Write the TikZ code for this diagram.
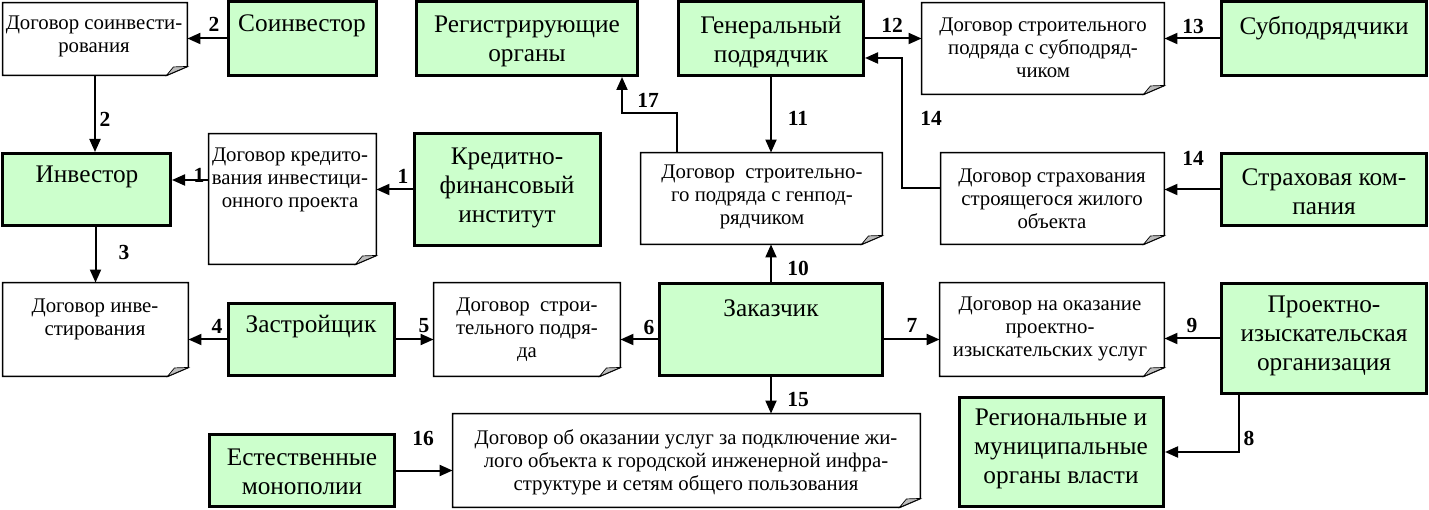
\documentclass[tikz,border=0pt]{standalone}
\usepackage{fontspec}
\setmainfont{Liberation Serif}
\usetikzlibrary{arrows.meta}
\definecolor{gfill}{HTML}{CCFFCC}
\definecolor{foldgray}{HTML}{BDBDBD}
\newcommand\gfont{\fontsize{25.3}{29}\selectfont}
\newcommand\dfont{\fontsize{20.8}{23}\selectfont}
\newcommand\lfont{\fontsize{21.5}{24}\selectfont\bfseries}
\tikzset{
  gbox/.style={draw=black, line width=3pt, fill=gfill, inner sep=0pt},
  docbox/.style={draw=none, inner sep=0pt},
  docline/.style={draw=black, line width=1.5pt, fill=white, line join=miter},
  fold/.style={fill=foldgray, draw=black, line width=0.7pt},
  gtext/.style={font=\gfont, align=center, inner sep=0pt},
  dtext/.style={font=\dfont, align=center, inner sep=0pt},
  lab/.style={font=\lfont, inner sep=0pt},
  arr/.style={line width=2pt, -{Triangle[length=13pt,width=11pt]}}
}
\newcommand\docframe[1]{%
  \draw[docline] (#1.north west) -- (#1.north east) -- ([yshift=9pt]#1.south east)
     -- ([xshift=-21pt]#1.south east) -- (#1.south west) -- cycle;
  \filldraw[fold] ([xshift=-21pt]#1.south east)
     .. controls ([xshift=-18pt,yshift=5pt]#1.south east) .. ([xshift=-14pt,yshift=8.5pt]#1.south east)
     -- ([yshift=9pt]#1.south east) -- cycle;}
\begin{document}
\begin{tikzpicture}[x=1pt,y=-1pt]
\useasboundingbox[fill=white] (0,0) rectangle (1429,510);

% green boxes
\node[gbox, minimum width=148pt, minimum height=74pt] (soinv) at (302.5,38.5) {};
\node[gbox, minimum width=221pt, minimum height=74pt] (reg) at (527,38.5) {};
\node[gbox, minimum width=185pt, minimum height=74pt] (gen) at (771,38.5) {};
\node[gbox, minimum width=205pt, minimum height=74pt] (sub) at (1324,38.5) {};
\node[gbox, minimum width=168pt, minimum height=72pt] (inv) at (86.5,189.5) {};
\node[gbox, minimum width=186pt, minimum height=112pt] (kred) at (507.5,189.5) {};
\node[gbox, minimum width=205pt, minimum height=72pt] (strah) at (1324,189.5) {};
\node[gbox, minimum width=166pt, minimum height=72pt] (zastr) at (311.5,339.5) {};
\node[gbox, minimum width=223pt, minimum height=92pt] (zak) at (771,329.5) {};
\node[gbox, minimum width=205pt, minimum height=110pt] (proekt) at (1324,338.5) {};
\node[gbox, minimum width=204pt, minimum height=109pt] (regmun) at (1061.5,452) {};
\node[gbox, minimum width=185pt, minimum height=72pt] (estmon) at (302,470.5) {};

% documents
\node[docbox, minimum width=184.5pt, minimum height=72.5pt] (dsoinv) at (95,39) {};
\node[docbox, minimum width=167.5pt, minimum height=130.5pt] (dkred) at (292.5,199) {};
\node[docbox, minimum width=241.5pt, minimum height=91.5pt] (dgen) at (761.5,198.5) {};
\node[docbox, minimum width=242.5pt, minimum height=91.5pt] (dsub) at (1043,48.5) {};
\node[docbox, minimum width=223.5pt, minimum height=91.5pt] (dstrah) at (1052.5,198.5) {};
\node[docbox, minimum width=185.5pt, minimum height=93.5pt] (dinv) at (95.5,329.5) {};
\node[docbox, minimum width=186.5pt, minimum height=93.5pt] (dstroi) at (527,329.5) {};
\node[docbox, minimum width=224.5pt, minimum height=93.5pt] (dproekt) at (1052,329.5) {};
\node[docbox, minimum width=467.5pt, minimum height=93.5pt] (dinfra) at (686.5,460.5) {};
\docframe{dsoinv}\docframe{dkred}\docframe{dgen}\docframe{dsub}\docframe{dstrah}
\docframe{dinv}\docframe{dstroi}\docframe{dproekt}\docframe{dinfra}

% green texts
\node[gtext] (tsoinv) at (302,26) {Соинвестор};
\node[gtext] (treg) at (527,41) {Регистрирующие\\органы};
\node[gtext] (tgen) at (771,42) {Генеральный\\подрядчик};
\node[gtext] (tsub) at (1324,28) {Субподрядчики};
\node[gtext] (tinv) at (87,177) {Инвестор};
\node[gtext] (tkred) at (507,188) {Кредитно-\\финансовый\\институт};
\node[gtext] (tstrah) at (1324,192) {Страховая ком-\\пания};
\node[gtext] (tzastr) at (311,327) {Застройщик};
\node[gtext] (tzak) at (771,308) {Заказчик};
\node[gtext] (tproekt) at (1324,336) {Проектно-\\изыскательская\\организация};
\node[gtext] (tregmun) at (1061,449) {Региональные и\\муниципальные\\органы власти};
\node[gtext] (testmon) at (302,472) {Естественные\\монополии};

% document texts
\node[dtext] (tdsoinv) at (94,36) {Договор соинвести-\\рования};
\node[dtext] (tdkred) at (290,180) {Договор кредито-\\вания инвестици-\\онного проекта};
\node[dtext] (tdgen) at (762,197) {Договор\ \ строительно-\\го подряда с генпод-\\рядчиком};
\node[dtext] (tdsub) at (1043,48) {Договор строительного\\подряда с субподряд-\\чиком};
\node[dtext] (tdstrah) at (1052,199) {Договор страхования\\строящегося жилого\\объекта};
\node[dtext] (tdinv) at (95,319) {Договор инве-\\стирования};
\node[dtext] (tdstroi) at (527,330) {Договор\ \ строи-\\тельного подря-\\да};
\node[dtext] (tdproekt) at (1050,329) {Договор на оказание\\проектно-\\изыскательских услуг};
\node[dtext] (tdinfra) at (686,462) {Договор об оказании услуг за подключение жи-\\лого объекта к городской инженерной инфра-\\структуре и сетям общего пользования};

% connectors
\draw[arr] (soinv.west) -- (dsoinv.east |- soinv.west);
\draw[arr] (dsoinv.south) -- (dsoinv.south |- inv.north);
\draw[arr] (dkred.west |- 0,180) -- (inv.east |- 0,180);
\draw[arr] (kred.west) -- (dkred.east |- kred.west);
\draw[arr] (dinv.north |- inv.south) -- (dinv.north);
\draw[arr] (zastr.west) -- (dinv.east |- zastr.west);
\draw[arr] (zastr.east) -- (dstroi.west |- zastr.east);
\draw[arr] (zak.west |- zastr.west) -- (dstroi.east |- zastr.west);
\draw[arr] (zak.east |- zastr.east) -- (dproekt.west |- zastr.east);
\draw[arr] (proekt.west) -- (dproekt.east |- proekt.west);
\draw[arr] (proekt.south -| 1239,0) |- (regmun.east);
\draw[arr] (zak.north) -- (zak.north |- dgen.south);
\draw[arr] (zak.south) -- (zak.south |- dinfra.north);
\draw[arr] (estmon.east) -- (dinfra.west |- estmon.east);
\draw[arr] (gen.south) -- (gen.south |- dgen.north);
\draw[arr] (gen.east) -- (dsub.west |- gen.east);
\draw[arr] (sub.west) -- (dsub.east |- sub.west);
\draw[arr] (strah.west) -- (dstrah.east |- strah.west);
\draw[arr] (dstrah.west |- 0,188) -| (902,58) -- (gen.east |- 0,58);
\draw[arr] (dgen.north -| 677,0) |- (622,113) -- (reg.south -| 622,0);

% labels
\node[lab] (l2a) at (214,24.5) {2};
\node[lab] (l2b) at (105,119) {2};
\node[lab] (l1a) at (199,175) {1};
\node[lab] (l1b) at (403,176) {1};
\node[lab] (l3) at (124,252) {3};
\node[lab] (l4) at (217,326) {4};
\node[lab] (l5) at (424,326) {5};
\node[lab] (l6) at (649,327) {6};
\node[lab] (l7) at (912,325) {7};
\node[lab] (l9) at (1192,325) {9};
\node[lab] (l8) at (1249,438) {8};
\node[lab] (l10) at (798,268) {10};
\node[lab] (l15) at (798,400) {15};
\node[lab] (l16) at (423,438) {16};
\node[lab] (l11) at (798,118) {11};
\node[lab] (l12) at (892,25) {12};
\node[lab] (l14a) at (931,118) {14};
\node[lab] (l17) at (648,100) {17};
\node[lab] (l13) at (1193,26) {13};
\node[lab] (l14b) at (1193,158) {14};
\end{tikzpicture}
\end{document}
